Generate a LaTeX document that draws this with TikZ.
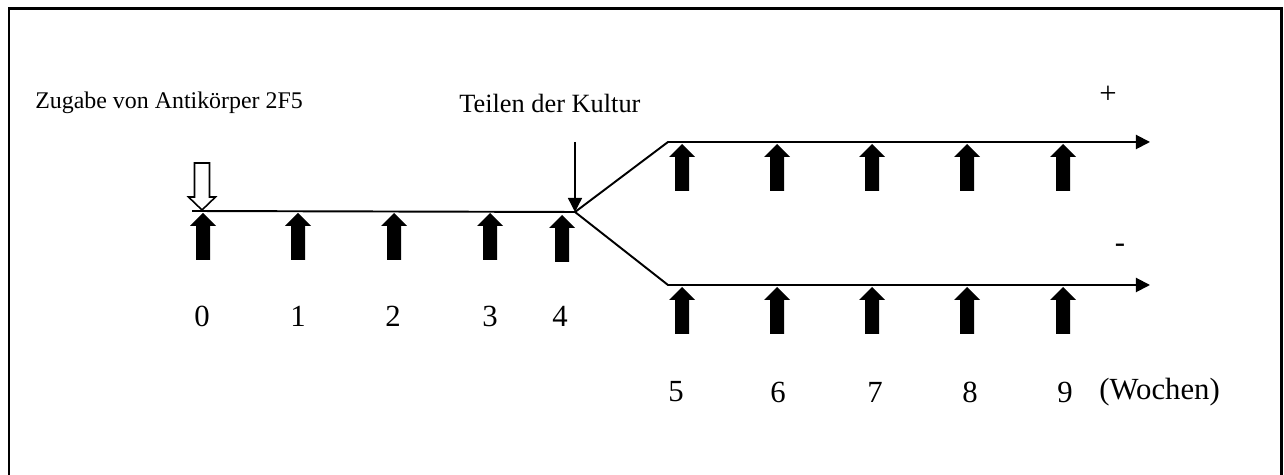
\documentclass[tikz,border=0pt]{standalone}
\usepackage{fontspec}
\setmainfont{Liberation Serif}
\usetikzlibrary{arrows.meta}
\begin{document}
\begin{tikzpicture}[x=0.02cm,y=-0.02cm,
  tl/.style={line width=1.1pt},
  blk/.pic={\fill[black] (0,0) -- (13,13) -- (7,13) -- (7,47) -- (-7,47) -- (-7,13) -- (-13,13) -- cycle;},
  num/.style={font=\fontsize{17.5}{20}\selectfont, inner sep=0pt},
  lab/.style={font=\fontsize{13.6}{16}\selectfont, inner sep=0pt, anchor=west},
  tip/.style={-{Triangle[length=8pt,width=8pt]}}
]
\useasboundingbox (0,0) rectangle (1284,475);
\draw[line width=1.7pt] (9,9) rectangle (1281,520);
% timeline coordinates
\coordinate (s) at (192,211);
\coordinate (j) at (575,212);
\coordinate (u1) at (668,142);
\coordinate (ue) at (1150,142);
\coordinate (l1) at (668,285);
\coordinate (le) at (1150,285);
\draw[tl] (s) -- (j);
\draw[tl,tip] (j) -- (u1) -- (ue);
\draw[tl,tip] (j) -- (l1) -- (le);
% Teilen arrow
\coordinate (kt) at (575,142);
\draw[line width=0.8pt,-{Triangle[length=8pt,width=8pt]}] (kt) -- (j);
% open arrow
\draw[line width=0.9pt, fill=white] (202,210) -- (215.5,197) -- (209.5,197) -- (209.5,163) -- (194.5,163) -- (194.5,197) -- (188.5,197) -- cycle;
% black arrows
\foreach \x/\y in {203/213,298/213,394/213,490/213,562/215,
                   682/144,777/144,872/144,967/144,1063/144,
                   682/287,777/287,872/287,967/287,1063/287}
  \pic at (\x,\y) {blk};
% labels
\node[lab] (zug) at (35,103) {Zugabe von Antikörper 2F5};
\node[lab, font=\fontsize{15}{17}\selectfont] (teil) at (459,103) {Teilen der Kultur};
\node[num] (plus) at (1108,95) {+};
\node[num] (minus) at (1120,248) {-};
\node[num] (n0) at (202,316) {0};
\node[num] (n1) at (298,316) {1};
\node[num] (n2) at (393,316) {2};
\node[num] (n3) at (490,316) {3};
\node[num] (n4) at (560,316) {4};
\node[num] (n5) at (676,392) {5};
\node[num] (n6) at (778,392) {6};
\node[num] (n7) at (875,392) {7};
\node[num] (n8) at (970,392) {8};
\node[num] (n9) at (1065,392) {9};
\node[num, anchor=west] (wo) at (1099,392) {(Wochen)};
\end{tikzpicture}
\end{document}
